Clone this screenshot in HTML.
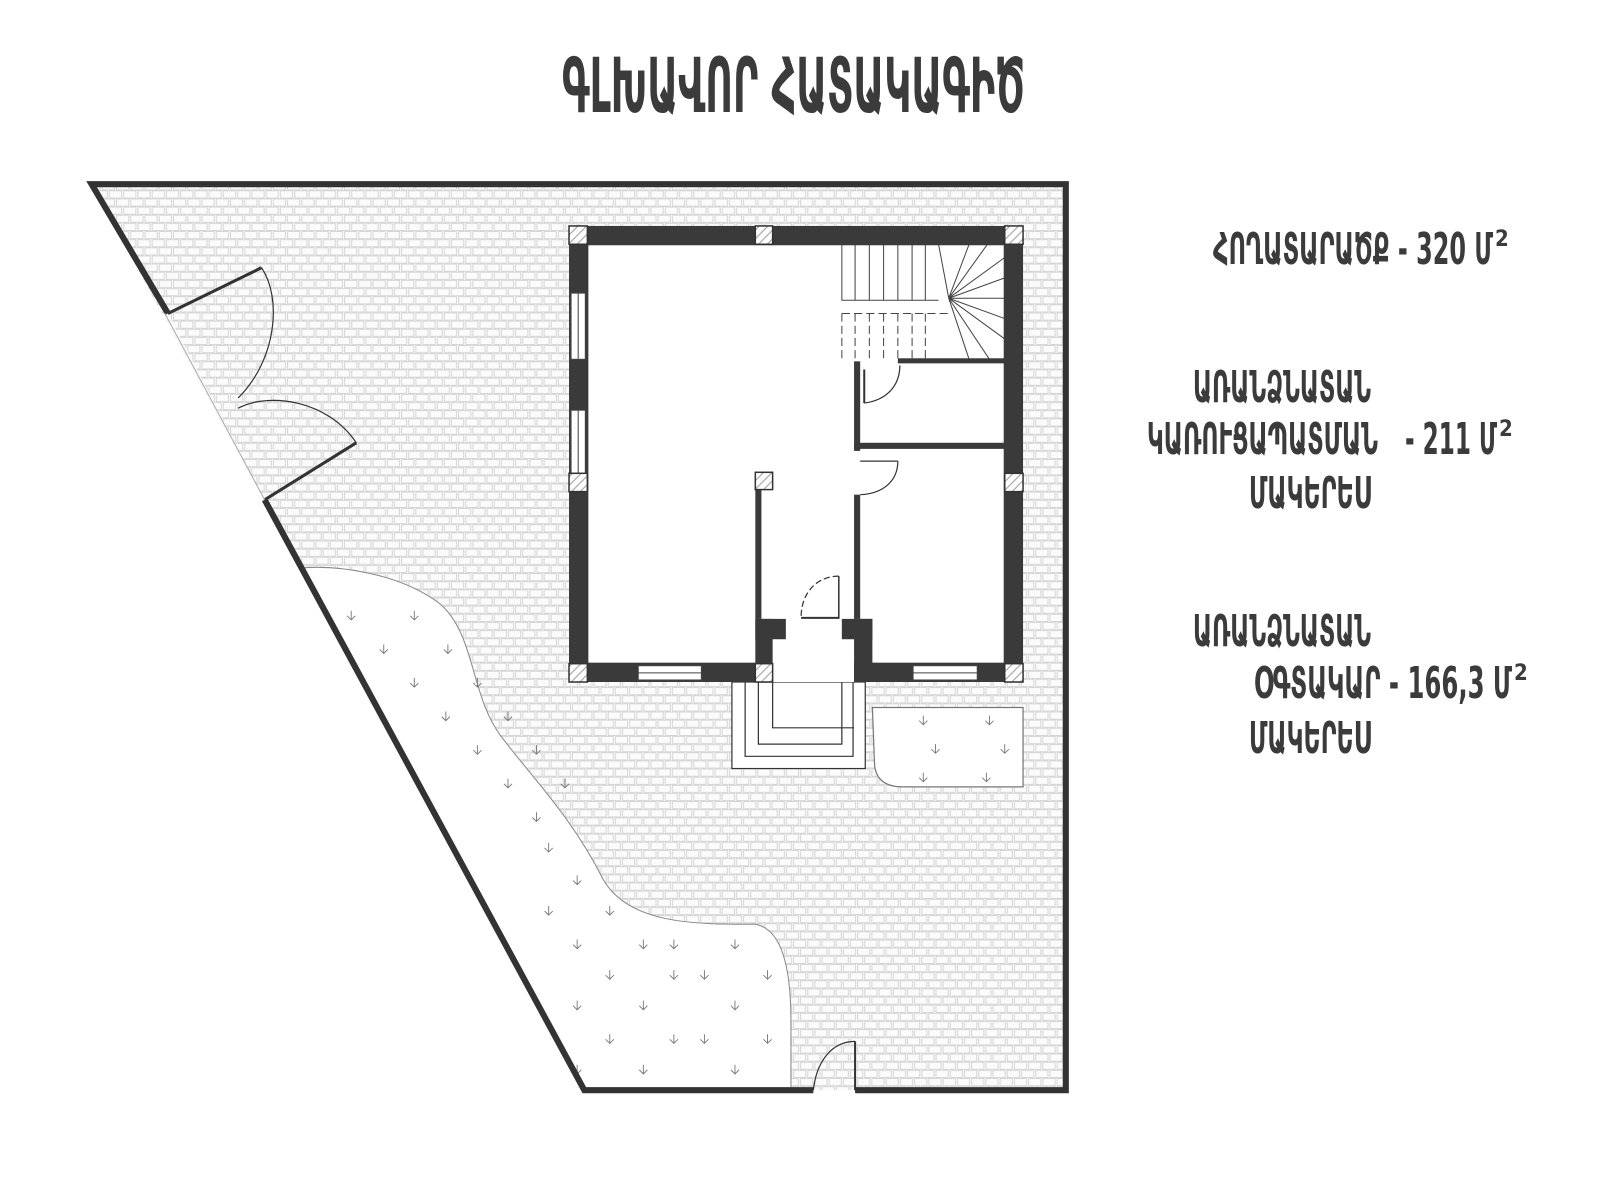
<!DOCTYPE html>
<html><head><meta charset="utf-8"><style>
html,body{margin:0;padding:0;background:#fff;}
svg{display:block}
text{font-family:"DejaVu Sans Condensed","DejaVu Sans",sans-serif;font-weight:bold;fill:#3b3b3b}
</style></head><body>
<svg width="1600" height="1200" viewBox="0 0 1600 1200" xmlns="http://www.w3.org/2000/svg">
<defs>
<pattern id="brick" width="14" height="16" patternUnits="userSpaceOnUse">
<rect width="14" height="16" fill="#fbfbfb"/>
<path d="M0.5 0.5h12v7h-12z M7.5 8.5h12v7h-12z M-6.5 8.5h12v7h-12z" fill="none" stroke="#d6d6d6" stroke-width="1"/>
</pattern>
<pattern id="hatch" width="6" height="6" patternUnits="userSpaceOnUse" patternTransform="rotate(-45)">
<rect width="6" height="6" fill="#fff"/><line x1="0" y1="3" x2="6" y2="3" stroke="#999" stroke-width="1"/>
</pattern>
<g id="plant"><path d="M0 -5V4M-4 0L0 4L4 0" fill="none" stroke="#777" stroke-width="0.9"/></g>
</defs>
<g transform="translate(2,3) scale(1.018)">
<polygon points="88,178 1045,178 1045,1068 572,1068" fill="url(#brick)"/>
<polygon points="163,305 258,488 238,488 150,305" fill="#fff" opacity="0.7"/>
<path d="M294,555 C330,552 390,560 430,590 C465,620 460,680 490,720 C520,760 560,800 590,860 C615,905 680,905 740,905 C770,910 775,960 775,1000 L775,1068 L572,1068 Z" fill="#fff" stroke="#888" stroke-width="1"/>
<g>
<use href="#plant" x="343" y="602"/><use href="#plant" x="405" y="602"/>
<use href="#plant" x="375" y="635"/><use href="#plant" x="438" y="635"/>
<use href="#plant" x="405" y="668"/><use href="#plant" x="467" y="668"/>
<use href="#plant" x="436" y="701"/><use href="#plant" x="497" y="701"/>
<use href="#plant" x="467" y="734"/><use href="#plant" x="525" y="734"/>
<use href="#plant" x="497" y="767"/><use href="#plant" x="553" y="767"/>
<use href="#plant" x="525" y="800"/>
<use href="#plant" x="537" y="830"/><use href="#plant" x="565" y="862"/>
<use href="#plant" x="537" y="892"/><use href="#plant" x="597" y="892"/>
<use href="#plant" x="630" y="925"/><use href="#plant" x="565" y="925"/><use href="#plant" x="660" y="925"/><use href="#plant" x="720" y="925"/>
<use href="#plant" x="597" y="955"/><use href="#plant" x="660" y="955"/><use href="#plant" x="690" y="955"/><use href="#plant" x="752" y="955"/>
<use href="#plant" x="565" y="985"/><use href="#plant" x="630" y="985"/><use href="#plant" x="720" y="985"/>
<use href="#plant" x="597" y="1018"/><use href="#plant" x="660" y="1018"/><use href="#plant" x="690" y="1018"/><use href="#plant" x="752" y="1018"/>
<use href="#plant" x="565" y="1048"/><use href="#plant" x="630" y="1048"/><use href="#plant" x="720" y="1048"/>
</g>
<g fill="none" stroke="#333" stroke-width="6" stroke-linejoin="miter">
<polyline points="163,305 88,178 1045,178 1045,1068 838,1068"/>
<polyline points="797,1068 572,1068 258,488"/>
</g>
<g fill="none" stroke="#333">
<line x1="163" y1="305" x2="255" y2="260" stroke-width="3"/>
<path d="M255,260 C275,290 270,350 232,388" stroke-width="1.2"/>
<line x1="258" y1="488" x2="348" y2="432" stroke-width="3"/>
<path d="M348,432 C320,390 262,382 232,398" stroke-width="1.2"/>
<line x1="160" y1="305" x2="258" y2="488" stroke="#aaa" stroke-width="1"/>
<line x1="838" y1="1020" x2="838" y2="1068" stroke-width="2"/>
<path d="M838,1020 C815,1020 800,1040 797,1068" stroke-width="1.2"/>
</g>
<rect x="717" y="667" width="131" height="85" fill="#fff" stroke="#333" stroke-width="1.2"/>
<path d="M730,667 V740 H836 V667 M743,667 V728 H825 V667 M757,667 V712 H837" fill="none" stroke="#333" stroke-width="1.2"/>
<path d="M855,692 H1003 V770 H885 Q857,770 857,745 Z" fill="#fff" stroke="#777" stroke-width="1.2"/>
<use href="#plant" x="905" y="705"/><use href="#plant" x="970" y="705"/><use href="#plant" x="917" y="733"/><use href="#plant" x="985" y="733"/><use href="#plant" x="905" y="761"/><use href="#plant" x="967" y="761"/>
<rect x="557" y="219" width="446" height="448" fill="#fff"/>
<g stroke="#444" stroke-width="1" fill="none">
<path d="M825,237 V292 H920 M838,237V292 M852,237V292 M866,237V292 M880,237V292 M894,237V292 M907,237V292"/>
<path d="M825,305 V350 M838,305V350 M852,305V350 M866,305V350 M880,305V350 M894,305V350 M907,305V350 M825,305 H930" stroke-dasharray="8,4"/>
<path d="M930,290 L985,250 M930,290 L985,270 M930,290 L985,290 M930,290 L985,310 M930,290 L985,330 M930,290 L970,350 M930,290 L950,350 M930,290 L920,237 M930,290 L950,237 M930,290 L968,237"/>
</g>
<g fill="#3a3a3a">
<rect x="557" y="219" width="446" height="19"/>
<rect x="557" y="219" width="19" height="448"/>
<rect x="984" y="219" width="19" height="448"/>
<rect x="557" y="648" width="200" height="19"/>
<rect x="837" y="648" width="166" height="19"/>
<rect x="740" y="605" width="17" height="62"/><rect x="740" y="605" width="30" height="20"/>
<rect x="837" y="605" width="18" height="62"/><rect x="825" y="605" width="30" height="20"/>
<rect x="740" y="478" width="6" height="127"/>
<rect x="837" y="352" width="6" height="88"/>
<rect x="837" y="483" width="6" height="122"/>
<rect x="880" y="349" width="105" height="5"/>
<rect x="837" y="432" width="148" height="6"/>
</g>
<g fill="#fff" stroke="#444" stroke-width="1">
<rect x="559" y="285" width="14" height="65"/><rect x="559" y="400" width="14" height="62"/>
<rect x="625" y="651" width="62" height="14"/><rect x="895" y="651" width="63" height="14"/>
</g>
<path d="M566,285V350 M566,400V462 M625,658H687 M895,658H958" stroke="#444" stroke-width="1"/>
<g fill="url(#hatch)" stroke="#333" stroke-width="1.5">
<rect x="557" y="219" width="18" height="18"/><rect x="740" y="219" width="17" height="18"/><rect x="985" y="219" width="18" height="18"/>
<rect x="557" y="462" width="18" height="18"/><rect x="985" y="462" width="18" height="18"/>
<rect x="740" y="461" width="17" height="17"/>
<rect x="557" y="649" width="18" height="18"/><rect x="740" y="649" width="17" height="18"/><rect x="985" y="649" width="18" height="18"/>
</g>
<g fill="none" stroke="#333" stroke-width="1.2">
<line x1="847" y1="360" x2="847" y2="393" stroke-width="2"/><path d="M847,393 C870,390 882,375 882,356"/>
<line x1="843" y1="450" x2="880" y2="450"/><path d="M880,450 C880,470 865,482 843,483"/>
<line x1="822" y1="563" x2="822" y2="605" stroke-width="1.5"/><path d="M822,563 C800,563 785,580 785,603" stroke-dasharray="6,3"/>
<line x1="785" y1="604" x2="822" y2="604" stroke-width="2"/>
</g>
</g>
<text x="562" y="112" font-size="76" textLength="463" lengthAdjust="spacingAndGlyphs">ԳԼԽԱՎՈՐ ՀԱՏԱԿԱԳԻԾ</text>
<text x="1213" y="264" font-size="44" textLength="280" lengthAdjust="spacingAndGlyphs">ՀՈՂԱՏԱՐԱԾՔ - 320 Մ</text>
<text x="1495" y="246" font-size="22">2</text>
<text x="1193" y="402" font-size="44" textLength="178" lengthAdjust="spacingAndGlyphs">ԱՌԱՆՁՆԱՏԱՆ</text>
<text x="1147" y="454" font-size="44" textLength="231" lengthAdjust="spacingAndGlyphs">ԿԱՌՈՒՑԱՊԱՏՄԱՆ</text>
<text x="1405" y="454" font-size="44" textLength="92" lengthAdjust="spacingAndGlyphs">- 211 Մ</text>
<text x="1499" y="436" font-size="22">2</text>
<text x="1249" y="508" font-size="44" textLength="122" lengthAdjust="spacingAndGlyphs">ՄԱԿԵՐԵՍ</text>
<text x="1193" y="646" font-size="44" textLength="178" lengthAdjust="spacingAndGlyphs">ԱՌԱՆՁՆԱՏԱՆ</text>
<text x="1254" y="698" font-size="44" textLength="258" lengthAdjust="spacingAndGlyphs">ՕԳՏԱԿԱՐ - 166,3 Մ</text>
<text x="1514" y="680" font-size="22">2</text>
<text x="1249" y="753" font-size="44" textLength="122" lengthAdjust="spacingAndGlyphs">ՄԱԿԵՐԵՍ</text>
</svg>
</body></html>
